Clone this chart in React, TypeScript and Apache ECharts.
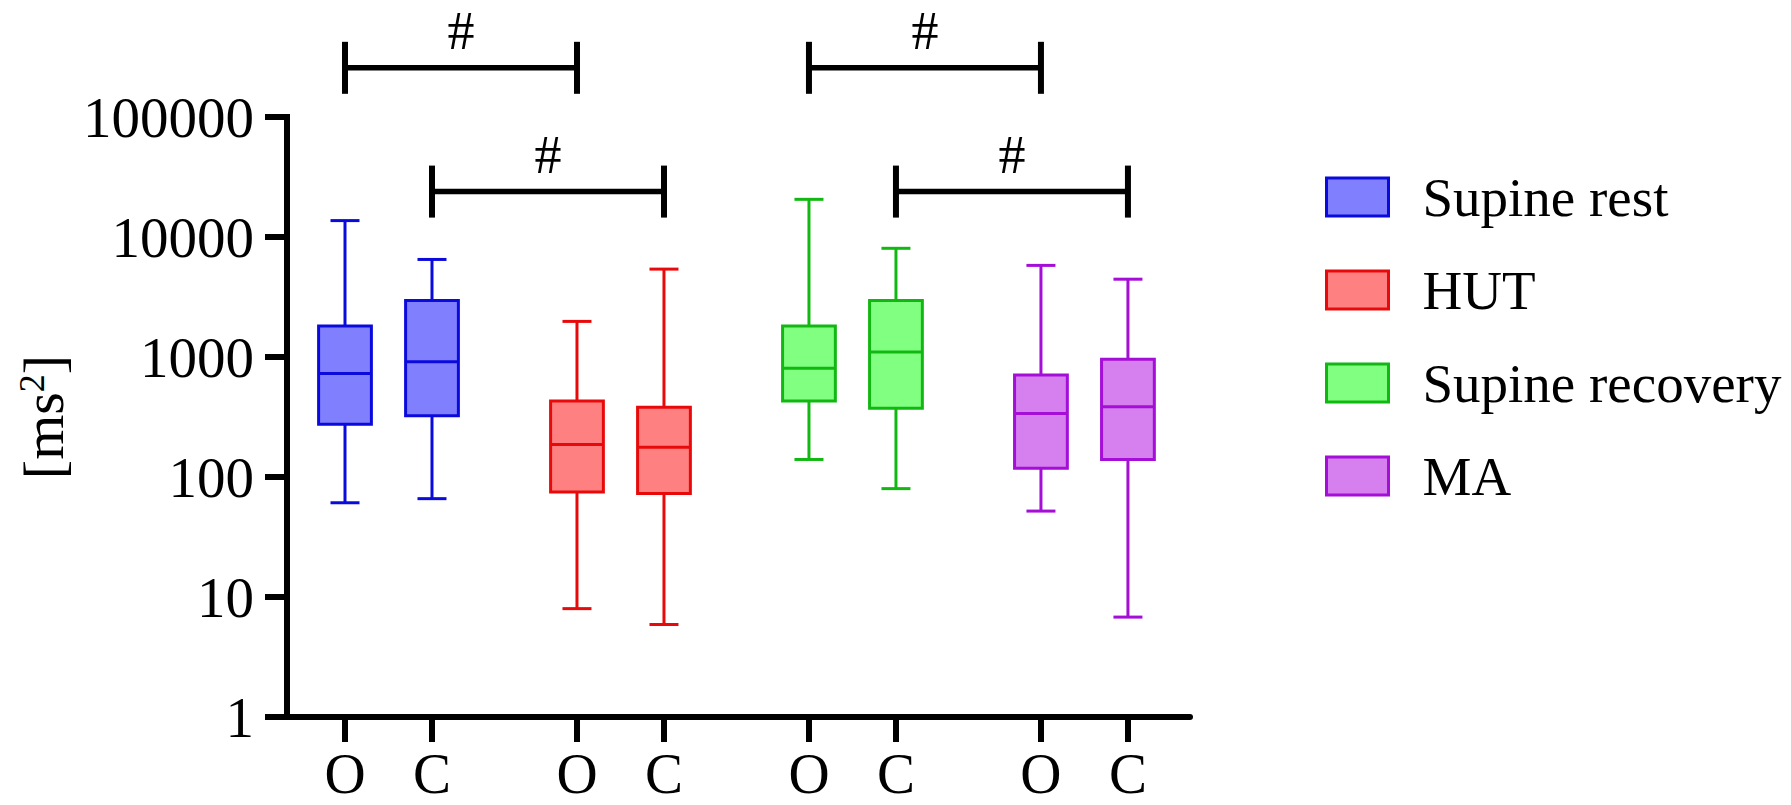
import React, { useEffect, useRef } from 'react';
import * as echarts from 'echarts';

// ---- data ----
const groups = ['Supine rest', 'HUT', 'Supine recovery', 'MA'];
const conditions = ['O', 'C'];
// each entry: [min, Q1, median, Q3, max] for O then C  (ms^2)
const supineRest = [
  [61, 275, 730, 1810, 13700],
  [66, 324, 915, 2950, 6500],
];
const hut = [
  [8.0, 75, 187, 430, 1980],
  [5.9, 73, 177, 381, 5400],
];
const supineRecovery = [
  [140, 430, 805, 1810, 20600],
  [80, 374, 1100, 2950, 8050],
];
const ma = [
  [52, 118, 339, 708, 5800],
  [6.8, 140, 385, 957, 4450],
];
const yTickValues = [1, 10, 100, 1000, 10000, 100000];
// significance brackets: [groupA, groupB, condition index, bracket level index]
const comparisons = [
  [0, 1, 0, 0],
  [0, 1, 1, 1],
  [2, 3, 0, 0],
  [2, 3, 1, 1],
];
const bracketLevels = [257000, 23900];
const bracketLabel = '#';

// ---- styling ----
const FONT = 'Liberation Serif, Times New Roman, serif';
const fills = ['#8080FF', '#FF8080', '#80FF80', '#D580EE'];
const borders = ['#0A0ADC', '#E80A0A', '#12B812', '#A40ED6'];
const groupData = [supineRest, hut, supineRecovery, ma];

// slot index along x: 2 units padding, 3 units between O and C, 8 units per group
const slot = (g: number, c: number) => 2 + g * 8 + c * 3;
const slotValues: number[] = [];
const slotLabels: string[] = [];
groups.forEach((_, g) =>
  conditions.forEach((c, ci) => {
    slotValues.push(slot(g, ci));
    slotLabels.push(c);
  })
);

const renderBox = (border: string, fill: string) => (params: any, api: any) => {
  const x = api.value(0);
  const pMin = api.coord([x, api.value(1)]);
  const pQ1 = api.coord([x, api.value(2)]);
  const pMed = api.coord([x, api.value(3)]);
  const pQ3 = api.coord([x, api.value(4)]);
  const pMax = api.coord([x, api.value(5)]);
  const unit = api.size([1, 1], [x, 10])[0];
  const half = unit * 0.91;
  const cap = unit * 0.5;
  const cx = pMin[0];
  const ls = { stroke: border, lineWidth: 3 };
  return {
    type: 'group',
    children: [
      { type: 'line', shape: { x1: cx, y1: pMax[1], x2: cx, y2: pQ3[1] }, style: ls },
      { type: 'line', shape: { x1: cx, y1: pQ1[1], x2: cx, y2: pMin[1] }, style: ls },
      { type: 'line', shape: { x1: cx - cap, y1: pMax[1], x2: cx + cap, y2: pMax[1] }, style: ls },
      { type: 'line', shape: { x1: cx - cap, y1: pMin[1], x2: cx + cap, y2: pMin[1] }, style: ls },
      {
        type: 'rect',
        shape: { x: cx - half, y: pQ3[1], width: 2 * half, height: pQ1[1] - pQ3[1] },
        style: { fill, stroke: border, lineWidth: 3 },
      },
      { type: 'line', shape: { x1: cx - half, y1: pMed[1], x2: cx + half, y2: pMed[1] }, style: ls },
    ],
  };
};

const renderBracket = (params: any, api: any) => {
  const a = api.coord([api.value(0), api.value(2)]);
  const b = api.coord([api.value(1), api.value(2)]);
  const y = a[1];
  const tick = 26;
  const st = { stroke: '#000', lineWidth: 6 };
  return {
    type: 'group',
    children: [
      { type: 'line', shape: { x1: a[0], y1: y, x2: b[0], y2: y }, style: { stroke: '#000', lineWidth: 5.5 } },
      { type: 'line', shape: { x1: a[0], y1: y - tick, x2: a[0], y2: y + tick }, style: st },
      { type: 'line', shape: { x1: b[0], y1: y - tick, x2: b[0], y2: y + tick }, style: st },
      {
        type: 'text',
        x: (a[0] + b[0]) / 2,
        y: y - 37,
        style: {
          text: bracketLabel,
          fill: '#000',
          fontSize: 54,
          lineHeight: 44,
          fontFamily: FONT,
          align: 'center',
          verticalAlign: 'middle',
        },
      },
    ],
  };
};

export default function App() {
  const ref = useRef<HTMLDivElement>(null);

  useEffect(() => {
    document.body.style.margin = '0';
    if (!ref.current) return;
    const chart = echarts.init(ref.current, null, { renderer: 'svg' });

    const boxSeries = groups.map((name, g) => ({
      type: 'custom',
      name,
      renderItem: renderBox(borders[g], fills[g]),
      itemStyle: { color: fills[g], borderColor: borders[g] },
      encode: { x: 0, y: [1, 2, 3, 4, 5] },
      data: groupData[g].map((v, ci) => [slot(g, ci), ...v]),
      clip: false,
      z: 3,
    }));

    const bracketSeries = {
      type: 'custom',
      name: 'brackets',
      renderItem: renderBracket,
      encode: { x: [0, 1], y: 2 },
      data: comparisons.map(([ga, gb, c, lvl]) => [slot(ga, c), slot(gb, c), bracketLevels[lvl]]),
      clip: false,
      z: 4,
    };

    const option: any = {
      animation: false,
      backgroundColor: '#fff',
      grid: {
        left: 287,
        top: 117,
        right: 601,
        bottom: 88,
        containLabel: false,
        outerBoundsMode: 'none',
      },
      legend: {
        orient: 'vertical',
        left: 1325,
        top: 167,
        padding: 0,
        itemWidth: 62,
        itemHeight: 38,
        itemGap: 33,
        selectedMode: false,
        textStyle: {
          fontSize: 55,
          fontFamily: FONT,
          color: '#000',
          lineHeight: 60,
          padding: [0, 0, 0, 29],
        },
        data: groups.map((name, g) => ({
          name,
          icon: 'rect',
          itemStyle: { color: fills[g], borderColor: borders[g], borderWidth: 3 },
        })),
      },
      xAxis: {
        type: 'value',
        min: 0,
        max: 31.14,
        splitLine: { show: false },
        axisLine: { show: true, lineStyle: { color: '#000', width: 6 } },
        axisTick: {
          show: true,
          customValues: slotValues,
          length: 25,
          lineStyle: { color: '#000', width: 6 },
        },
        axisLabel: {
          customValues: slotValues,
          formatter: (v: number) => {
            const i = slotValues.indexOf(Math.round(v));
            return i >= 0 ? slotLabels[i] : '';
          },
          fontSize: 57,
          lineHeight: 50,
          fontFamily: FONT,
          color: '#000',
          margin: 31,
        },
      },
      yAxis: {
        type: 'log',
        logBase: 10,
        min: yTickValues[0],
        max: yTickValues[yTickValues.length - 1],
        splitLine: { show: false },
        axisLine: { show: true, lineStyle: { color: '#000', width: 6, cap: 'square' } },
        axisTick: { show: true, length: 22, lineStyle: { color: '#000', width: 6 } },
        axisLabel: {
          formatter: (v: number) => String(Math.round(v)),
          fontSize: 57,
          fontFamily: FONT,
          color: '#000',
          margin: 33,
        },
        name: '[ms{s|2}]',
        nameLocation: 'middle',
        nameRotate: 90,
        nameGap: 212,
        nameTextStyle: {
          fontSize: 58,
          fontFamily: FONT,
          color: '#000',
          rich: {
            s: { fontSize: 36, fontFamily: FONT, color: '#000', verticalAlign: 'top', lineHeight: 36 },
          },
        },
      },
      series: [...boxSeries, bracketSeries],
    };

    chart.setOption(option);
    return () => chart.dispose();
  }, []);

  return <div ref={ref} style={{ width: 1791, height: 805 }} />;
}
